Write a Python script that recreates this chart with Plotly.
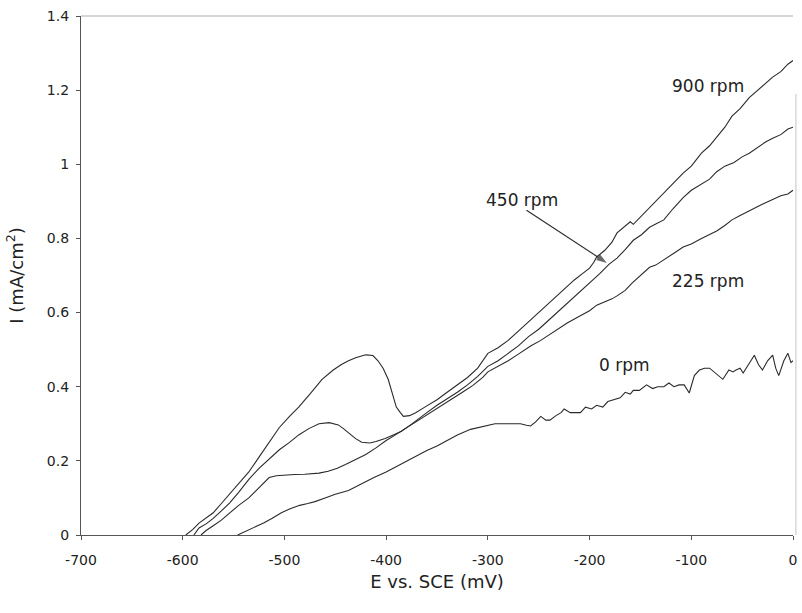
import plotly.graph_objects as go

# Polarisation curves: current density vs. potential at several rotation rates
e_900 = [-597, -590, -584, -577, -570, -562, -551, -543, -535, -525, -515, -505, -495, -486,
         -475, -463, -452, -444, -437, -430, -420, -413, -408, -403, -398, -394, -390, -386,
         -383, -377, -371, -362, -350, -340, -330, -320, -310, -300, -290, -280, -270, -260,
         -250, -240, -232, -224, -215, -207, -200, -196, -193, -185, -178, -173, -165, -160,
         -157, -150, -145, -135, -125, -116, -108, -100, -90, -82, -75, -67, -60, -52, -43,
         -35, -28, -20, -12, -5, 0]
i_900 = [0, 0.015, 0.032, 0.045, 0.06, 0.085, 0.12, 0.145, 0.17, 0.21, 0.25, 0.29, 0.32, 0.345,
         0.38, 0.42, 0.445, 0.46, 0.47, 0.478, 0.486, 0.484, 0.47, 0.45, 0.42, 0.385, 0.345, 0.33,
         0.32, 0.322, 0.33, 0.345, 0.365, 0.385, 0.405, 0.425, 0.45, 0.49, 0.505, 0.525, 0.55,
         0.575, 0.6, 0.625, 0.645, 0.665, 0.688, 0.705, 0.72, 0.735, 0.75, 0.768, 0.79, 0.815,
         0.835, 0.845, 0.838, 0.858, 0.872, 0.9, 0.93, 0.955, 0.976, 0.995, 1.03, 1.05, 1.074,
         1.1, 1.13, 1.15, 1.18, 1.2, 1.215, 1.235, 1.25, 1.27, 1.28]

e_450 = [-589, -584, -577, -570, -562, -554, -545, -535, -525, -515, -505, -495, -486, -476,
         -466, -456, -447, -442, -437, -430, -424, -416, -410, -401, -393, -385, -377, -370,
         -360, -350, -340, -330, -320, -310, -300, -290, -280, -270, -260, -250, -240, -232,
         -225, -215, -207, -200, -190, -181, -173, -165, -157, -149, -141, -134, -127, -118,
         -108, -100, -91, -82, -75, -67, -58, -50, -43, -35, -27, -20, -12, -5, 0]
i_450 = [0, 0.019, 0.03, 0.045, 0.065, 0.086, 0.115, 0.15, 0.18, 0.205, 0.23, 0.25, 0.27, 0.287,
         0.3, 0.303, 0.297, 0.287, 0.275, 0.26, 0.25, 0.248, 0.252, 0.26, 0.27, 0.28, 0.295, 0.31,
         0.33, 0.35, 0.367, 0.385, 0.405, 0.428, 0.455, 0.47, 0.49, 0.51, 0.535, 0.555, 0.58,
         0.6, 0.617, 0.64, 0.66, 0.68, 0.705, 0.73, 0.747, 0.77, 0.795, 0.81, 0.83, 0.84, 0.85,
         0.88, 0.91, 0.93, 0.945, 0.96, 0.98, 0.995, 1.005, 1.02, 1.03, 1.045, 1.06, 1.07, 1.08,
         1.095, 1.1]

e_225 = [-582, -577, -570, -562, -554, -545, -535, -525, -515, -508, -500, -490, -480, -470,
         -466, -457, -448, -440, -430, -420, -410, -400, -392, -385, -375, -365, -355, -345,
         -335, -325, -315, -305, -300, -290, -280, -270, -258, -248, -240, -232, -222, -210,
         -200, -193, -185, -178, -173, -165, -158, -150, -141, -135, -125, -116, -108, -100,
         -90, -82, -75, -67, -60, -52, -43, -35, -28, -20, -12, -5, 0]
i_225 = [0, 0.012, 0.025, 0.04, 0.059, 0.08, 0.1, 0.128, 0.155, 0.16, 0.162, 0.163, 0.164, 0.166,
         0.167, 0.172, 0.18, 0.19, 0.203, 0.217, 0.235, 0.255, 0.268, 0.28, 0.298, 0.315, 0.333,
         0.35, 0.368, 0.385, 0.403, 0.425, 0.44, 0.455, 0.47, 0.488, 0.51, 0.525, 0.54, 0.555,
         0.572, 0.59, 0.605, 0.62, 0.628, 0.637, 0.645, 0.66, 0.68, 0.7, 0.722, 0.728, 0.745,
         0.762, 0.777, 0.785, 0.8, 0.81, 0.82, 0.835, 0.85, 0.862, 0.875, 0.885, 0.895, 0.905,
         0.915, 0.92, 0.93]

e_0 = [-546, -538, -530, -520, -512, -503, -495, -485, -477, -470, -460, -450, -437, -425, -412,
       -400, -390, -380, -370, -360, -350, -339, -330, -317, -308, -300, -293, -285, -280, -275,
       -268, -262, -258, -253, -248, -243, -239, -233, -228, -225, -219, -214, -209, -204, -198,
       -193, -187, -182, -176, -170, -165, -160, -157, -151, -144, -138, -133, -127, -122, -117,
       -112, -107, -102, -97, -92, -87, -82, -76, -69, -63, -59, -56, -52, -49, -45, -38, -34,
       -30, -25, -20, -17, -14, -9, -5, -2, 0]
i_0 = [0, 0.01, 0.02, 0.033, 0.045, 0.06, 0.07, 0.08, 0.085, 0.09, 0.1, 0.11, 0.12, 0.137, 0.155,
       0.17, 0.185, 0.2, 0.215, 0.228, 0.24, 0.256, 0.27, 0.285, 0.29, 0.295, 0.3, 0.3, 0.3, 0.298,
       0.3, 0.296, 0.294, 0.305, 0.32, 0.31, 0.31, 0.322, 0.33, 0.34, 0.33, 0.33, 0.33, 0.345,
       0.34, 0.35, 0.345, 0.36, 0.364, 0.37, 0.385, 0.38, 0.39, 0.39, 0.405, 0.395, 0.4, 0.4,
       0.41, 0.4, 0.405, 0.405, 0.383, 0.43, 0.445, 0.45, 0.45, 0.435, 0.42, 0.445, 0.44, 0.445,
       0.45, 0.437, 0.455, 0.485, 0.46, 0.445, 0.47, 0.485, 0.45, 0.43, 0.47, 0.49, 0.465, 0.47]

# Pointer for the 450 rpm label: tail near the text, head on the curve
pointer_e = [-262, -183]
pointer_i = [0.876, 0.734]

x_ticks = [-700, -600, -500, -400, -300, -200, -100, 0]
x_tick_text = ["-700", "-600", "-500", "-400", "-300", "-200", "-100", "0"]
y_ticks = [0, 0.2, 0.4, 0.6, 0.8, 1.0, 1.2, 1.4]
y_tick_text = ["0", "0.2", "0.4", "0.6", "0.8", "1", "1.2", "1.4"]

series = [
    ("900 rpm", e_900, i_900),
    ("450 rpm", e_450, i_450),
    ("225 rpm", e_225, i_225),
    ("0 rpm", e_0, i_0),
]

FONT = "DejaVu Sans"
INK = "#2a2a2a"

fig = go.Figure()
for name, e, i in series:
    fig.add_trace(go.Scatter(x=e, y=i, mode="lines", name=name,
                             line=dict(color=INK, width=1.1), showlegend=False))

fig.add_trace(go.Scatter(x=pointer_e, y=pointer_i, mode="lines+markers", showlegend=False,
                         line=dict(color=INK, width=1.1),
                         marker=dict(symbol="arrow", size=[0, 11], angleref="previous",
                                     color=INK, line=dict(width=0))))

# Curve labels
labels = [
    ("900 rpm", -84, 1.21),
    ("450 rpm", -266, 0.905),
    ("225 rpm", -84, 0.686),
    ("0 rpm", -166, 0.459),
]
for text, x, y in labels:
    fig.add_annotation(x=x, y=y, text=text, showarrow=False,
                       font=dict(family=FONT, size=17, color="#222"))

# Light frame along the top and right of the plot area
fig.add_shape(type="line", xref="paper", yref="paper", x0=0, x1=1, y0=1, y1=1,
              line=dict(color="#c8c8c8", width=1.5))
fig.add_shape(type="line", xref="paper", yref="paper", x0=1.004, x1=1.004, y0=0, y1=0.85,
              line=dict(color="#d8d8d8", width=1.5))

fig.update_xaxes(range=[-700, 0], tickvals=x_ticks, ticktext=x_tick_text,
                 showgrid=False, zeroline=False, showline=True, linecolor="#555",
                 linewidth=1.3, ticks="outside", ticklen=4, tickcolor="#555",
                 ticklabelstandoff=8,
                 tickfont=dict(family=FONT, size=14, color="#222"),
                 title=dict(text="E vs. SCE (mV)", standoff=8,
                            font=dict(family=FONT, size=18, color="#222")))
fig.update_yaxes(range=[0, 1.4], tickvals=y_ticks, ticktext=y_tick_text,
                 showgrid=False, zeroline=False, showline=True, linecolor="#555",
                 linewidth=1.3, ticks="outside", ticklen=4, tickcolor="#555",
                 ticklabelstandoff=4,
                 tickfont=dict(family=FONT, size=14, color="#222"),
                 title=dict(text="I (mA/cm<sup>2</sup>)", standoff=18,
                            font=dict(family=FONT, size=18, color="#222")))

fig.update_layout(width=802, height=613, plot_bgcolor="white", paper_bgcolor="white",
                  margin=dict(l=81, r=5, t=16, b=78))

fig.write_html("out.html")
